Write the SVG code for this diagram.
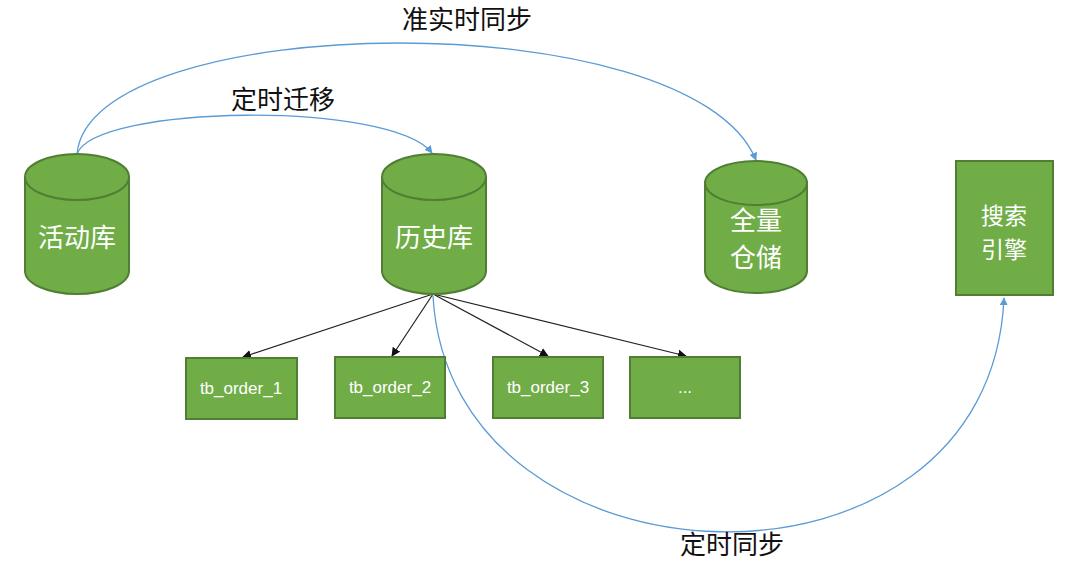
<svg xmlns="http://www.w3.org/2000/svg" width="1080" height="569" viewBox="0 0 1080 569">
<style>
.node{fill:#70AD47;stroke:#507E32;stroke-width:2}
.ntext{fill:#ffffff;font-family:"Noto Sans CJK SC",sans-serif;font-size:26px;text-anchor:middle}
.ntext2{fill:#ffffff;font-family:"Noto Sans CJK SC",sans-serif;font-size:23px;text-anchor:middle}
.ttext{fill:#ffffff;font-family:"Liberation Sans","Noto Sans",sans-serif;font-size:17px;text-anchor:middle}
.lbl{fill:#111;font-family:"Noto Sans CJK SC",sans-serif;font-size:26px;text-anchor:middle}
.blue{fill:none;stroke:#5B9BD5;stroke-width:1.3}
.black{fill:none;stroke:#222;stroke-width:1.2}
</style>
<defs>
<marker id="ab" viewBox="0 0 10 10" refX="9" refY="5" markerWidth="8" markerHeight="8" markerUnits="userSpaceOnUse" orient="auto"><path d="M0,0 L10,5 L0,10 z" fill="#5B9BD5"/></marker>
<marker id="ak" viewBox="0 0 10 10" refX="9" refY="5" markerWidth="9" markerHeight="9" markerUnits="userSpaceOnUse" orient="auto"><path d="M0,0 L10,5 L0,10 z" fill="#111"/></marker>
</defs>
<rect width="1080" height="569" fill="#ffffff"/>
<g id="connectors">
<path class="blue" d="M77,154 C95,105 390,100 432,153" marker-end="url(#ab)"/>
<path class="blue" d="M77,154 C90,10 690,0 756,160" marker-end="url(#ab)"/>
<path class="blue" d="M433,296 C450,600 990,620 1004,298" marker-end="url(#ab)"/>
<line class="black" x1="433" y1="294" x2="243" y2="357" marker-end="url(#ak)"/>
<line class="black" x1="433" y1="294" x2="392" y2="356" marker-end="url(#ak)"/>
<line class="black" x1="433" y1="294" x2="548" y2="356" marker-end="url(#ak)"/>
<line class="black" x1="433" y1="294" x2="686" y2="356" marker-end="url(#ak)"/>
<text class="lbl" x="283" y="109">定时迁移</text>
<text class="lbl" x="467" y="29">准实时同步</text>
<text class="lbl" x="732" y="554">定时同步</text>
</g>
<g id="huodongku">
<path class="node" d="M25,177 A52,23 0 0 1 129,177 L129,271 A52,23 0 0 1 25,271 Z"/>
<path class="node" d="M25,177 A52,23 0 0 0 129,177"/>
<text class="ntext" x="77" y="247">活动库</text>
</g>
<g id="lishiku">
<path class="node" d="M382,177 A52,23 0 0 1 486,177 L486,271 A52,23 0 0 1 382,271 Z"/>
<path class="node" d="M382,177 A52,23 0 0 0 486,177"/>
<text class="ntext" x="434" y="247">历史库</text>
</g>
<g id="quanliang">
<path class="node" d="M705,183 A51,22 0 0 1 807,183 L807,271 A51,22 0 0 1 705,271 Z"/>
<path class="node" d="M705,183 A51,22 0 0 0 807,183"/>
<text class="ntext" x="756" y="230">全量</text>
<text class="ntext" x="756" y="267">仓储</text>
</g>
<g id="sousuo">
<rect class="node" x="956" y="161" width="97" height="134"/>
<text class="ntext2" x="1004" y="224">搜索</text>
<text class="ntext2" x="1004" y="258">引擎</text>
</g>
<g id="tb1">
<rect class="node" x="186" y="358" width="111" height="61"/>
<text class="ttext" x="241" y="394">tb_order_1</text>
</g>
<g id="tb2">
<rect class="node" x="335" y="357" width="110" height="61"/>
<text class="ttext" x="390" y="393">tb_order_2</text>
</g>
<g id="tb3">
<rect class="node" x="493" y="357" width="110" height="61"/>
<text class="ttext" x="548" y="393">tb_order_3</text>
</g>
<g id="tbmore">
<rect class="node" x="630" y="357" width="110" height="61"/>
<text class="ttext" x="685" y="393">...</text>
</g>
</svg>
